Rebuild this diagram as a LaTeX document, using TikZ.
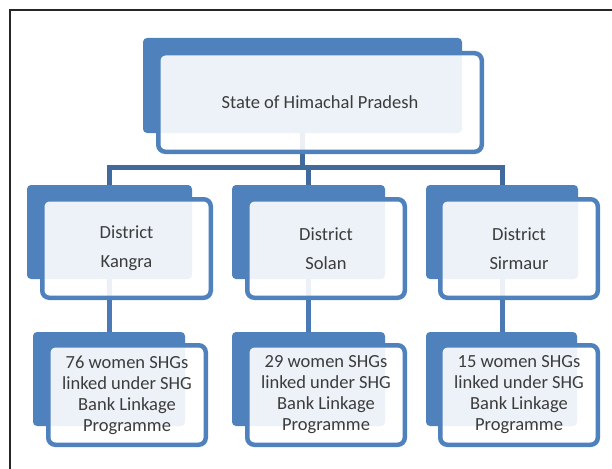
\documentclass[tikz,border=0pt]{standalone}
\usepackage{fontspec}
\setmainfont{Carlito}
\usetikzlibrary{backgrounds}
\definecolor{accent}{HTML}{4F81BD}
\definecolor{barblue}{HTML}{41699B}
\definecolor{linkblue}{HTML}{4A79B5}
\definecolor{txt}{HTML}{3C3C3C}
\definecolor{framegray}{HTML}{262626}
\begin{document}
\begin{tikzpicture}[x=1pt,y=-1pt,
  backbox/.style={fill=accent, draw=none, rounded corners=4pt, inner sep=0pt},
  frontbox/.style={draw=accent, line width=4.5pt, fill=white, fill opacity=0.9,
    text opacity=1, rounded corners=7pt, inner sep=0pt, align=center, text=txt,
    font=\fontsize{18.5}{21}\selectfont},
  distfont/.style={font=\fontsize{18.5}{29}\selectfont},
  barline/.style={draw=barblue, line width=5pt},
  linkline/.style={draw=linkblue, line width=5pt},
  frameline/.style={draw=framegray, line width=2pt}]
\useasboundingbox (0,0) rectangle (612,468);

% outer frame
\coordinate (fBL) at (10,469);
\coordinate (fTL) at (10,10);
\coordinate (fTR) at (613,10);
\draw[frameline] (fBL) -- (fTL) -- (fTR);

% back (filled) panels
\node[backbox, minimum width=319pt, minimum height=95pt] (topB) at (302.5,85.5) {};
\node[backbox, minimum width=165pt, minimum height=94pt] (dKB) at (109.5,232) {};
\node[backbox, minimum width=153pt, minimum height=94pt] (dSB) at (308.5,232) {};
\node[backbox, minimum width=152pt, minimum height=94pt] (dRB) at (502,232) {};
\node[backbox, minimum width=152pt, minimum height=94pt] (bKB) at (109,379) {};
\node[backbox, minimum width=153pt, minimum height=94pt] (bSB) at (308.5,379) {};
\node[backbox, minimum width=151pt, minimum height=94pt] (bRB) at (501.5,379) {};

% connectors (behind the panels)
\coordinate (barY) at (0,167);
\begin{pgfonlayer}{background}
\draw[barline] (topB.center) -- (topB.center |- barY);
\draw[barline] (dKB.center) |- (dRB.center |- barY) -- (dRB.center);
\draw[barline] (dSB.center) -- (dSB.center |- barY);
\draw[linkline] (dKB.center) -- (dKB.center |- bKB.center);
\draw[linkline] (dSB.center) -- (dSB.center |- bSB.center);
\draw[linkline] (dRB.center) -- (dRB.center |- bRB.center);
\end{pgfonlayer}

% front (outlined) panels with text
\node[frontbox, minimum width=323.5pt, minimum height=98.5pt] (top) at (320,102.5)
  {State of Himachal Pradesh};
\node[frontbox, distfont, minimum width=168.5pt, minimum height=98.5pt] (dK) at (126.5,248.5)
  {District\\Kangra};
\node[frontbox, distfont, minimum width=157.5pt, minimum height=98.5pt] (dS) at (326,248.5)
  {District\\Solan};
\node[frontbox, distfont, minimum width=157.5pt, minimum height=98.5pt] (dR) at (519,248.5)
  {District\\Sirmaur};
\node[frontbox, minimum width=157.5pt, minimum height=99.5pt] (bK) at (127,395)
  {76 women SHGs\\linked under SHG\\Bank Linkage\\Programme};
\node[frontbox, minimum width=157.5pt, minimum height=99.5pt] (bS) at (326,395)
  {29 women SHGs\\linked under SHG\\Bank Linkage\\Programme};
\node[frontbox, minimum width=157.5pt, minimum height=99.5pt] (bR) at (519,395)
  {15 women SHGs\\linked under SHG\\Bank Linkage\\Programme};
\end{tikzpicture}
\end{document}
